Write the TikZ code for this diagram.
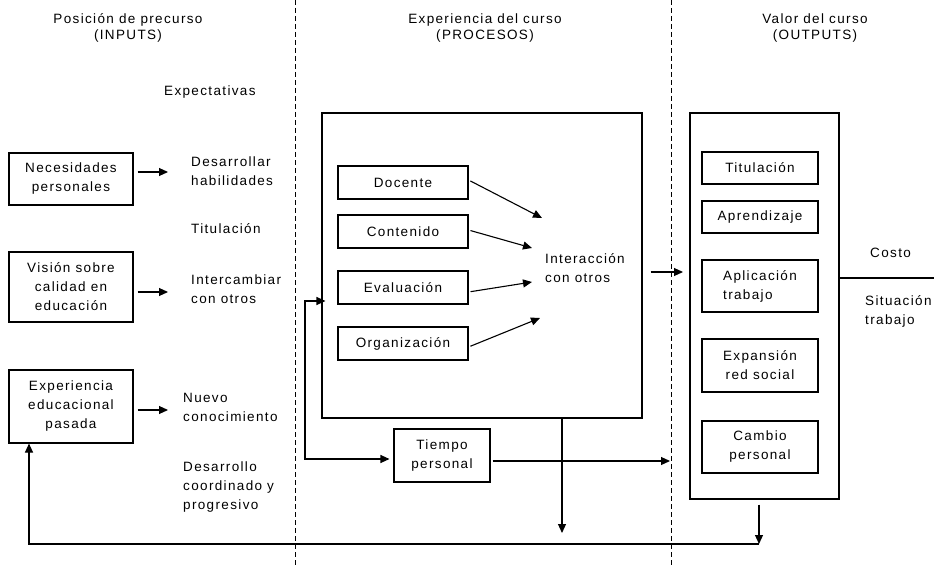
\documentclass[tikz,border=0pt]{standalone}
\usepackage{fontspec}
\setmainfont{Liberation Sans}[LetterSpace=10]
\usetikzlibrary{arrows.meta}
\begin{document}
\begin{tikzpicture}[x=1pt,y=-1pt,
  font=\fontsize{13.5}{19}\selectfont,
  every node/.style={inner sep=0pt},
  box/.style={draw,line width=1.1pt,align=center},
  txt/.style={anchor=west,align=left},
  hdr/.style={align=center,font=\fontsize{13.5}{16}\selectfont},
  arr/.style={line width=1.1pt,-{Triangle[length=9pt,width=8pt]}},
  ln/.style={line width=1.1pt},
  dsh/.style={line width=0.9pt,dash pattern=on 5pt off 3pt}]
\path[use as bounding box] (0,0) rectangle (934,567);
% dashed separators
\draw[dsh] (295,0) -- (295,567);
\draw[dsh] (671,0) -- (671,567);
% headers
\node[hdr] (h1) at (128,28) {Posición de precurso\\(INPUTS)};
\node[hdr] (h2) at (485,28) {Experiencia del curso\\(PROCESOS)};
\node[hdr] (h3) at (815,28) {Valor del curso\\(OUTPUTS)};
\node[txt] (expt) at (164,92) {Expectativas};
% left boxes
\node[box,minimum width=124pt,minimum height=52pt] (nec) at (71,179) {Necesidades\\personales};
\node[box,minimum width=124pt,minimum height=70pt] (vis) at (71,287) {Visión sobre\\calidad en\\educación};
\node[box,minimum width=124pt,minimum height=73pt] (exp) at (71,406.5) {Experiencia\\educacional\\pasada};
% expectations texts
\node[txt] (e1) at (191,171) {Desarrollar\\habilidades};
\node[txt] (e2) at (191,229) {Titulación};
\node[txt] (e3) at (191,289) {Intercambiar\\con otros};
\node[txt] (e4) at (183,407) {Nuevo\\conocimiento};
\node[txt] (e5) at (183,487) {Desarrollo\\coordinado y\\progresivo};
\coordinate (t1) at (168,172);
\coordinate (t2) at (168,292);
\coordinate (t3) at (168,410);
\draw[arr,shorten <=4pt] (nec.east |- t1) -- (t1);
\draw[arr,shorten <=4pt] (vis.east |- t2) -- (t2);
\draw[arr,shorten <=4pt] (exp.east |- t3) -- (t3);
% process box
\node[draw,line width=1.1pt,minimum width=320pt,minimum height=305pt] (big) at (482,265.5) {};
\node[box,minimum width=130pt,minimum height=33pt] (doc) at (403,182.5) {Docente};
\node[box,minimum width=130pt,minimum height=33pt] (con) at (403,231.5) {Contenido};
\node[box,minimum width=130pt,minimum height=33pt] (eva) at (403,287.5) {Evaluación};
\node[box,minimum width=130pt,minimum height=33pt] (org) at (403,343.5) {Organización};
\node[txt] (inter) at (545,268) {Interacción\\con otros};
\coordinate (i1) at (542,218);
\coordinate (i2) at (532,248);
\coordinate (i3) at (532,282);
\coordinate (i4) at (540,318);
\draw[arr,shorten <=2pt] ([yshift=2.5pt]doc.east) -- (i1);
\draw[arr,shorten <=2pt] ([yshift=1.5pt]con.east) -- (i2);
\draw[arr,shorten <=2pt] ([yshift=-4.5pt]eva.east) -- (i3);
\draw[arr,shorten <=2pt] ([yshift=-3.5pt]org.east) -- (i4);
% tiempo personal
\node[box,minimum width=96pt,minimum height=53pt] (tp) at (442,455.5) {Tiempo\\personal};
\coordinate (c1) at (305,301);
\coordinate (c2) at (305,459);
\draw[arr,shorten >=-4pt] (c2) -- (c1) -- (big.west |- c1);
\draw[arr,shorten >=4pt] (c1) -- (c2) -- (tp.west |- c2);
\coordinate (d1) at (670,461);
\draw[arr,shorten <=2pt] (tp.east |- d1) -- (d1);
\coordinate (d2) at (562,533);
\draw[arr] (big.south -| d2) -- (d2);
% outputs
\node[draw,line width=1.1pt,minimum width=149pt,minimum height=386pt] (out) at (764.5,306) {};
\node[box,minimum width=116pt,minimum height=32pt] (o1) at (760,168) {Titulación};
\node[box,minimum width=116pt,minimum height=32pt] (o2) at (760,217) {Aprendizaje};
\node[box,minimum width=116pt,minimum height=52pt,align=left] (o3) at (760,286) {Aplicación\\trabajo};
\node[box,minimum width=116pt,minimum height=53pt] (o4) at (760,365.5) {Expansión\\red social};
\node[box,minimum width=116pt,minimum height=52pt] (o5) at (760,447) {Cambio\\personal};
\coordinate (bb) at (683,272);
\draw[arr,shorten <=8pt] (big.east |- bb) -- (bb);
\coordinate (ce) at (934,278);
\draw[ln] (out.east |- ce) -- (ce);
\node[txt] (costo) at (870,253) {Costo};
\node[txt] (sit) at (865,311) {Situación\\trabajo};
% feedback
\coordinate (fb1) at (759,544);
\coordinate (fb2) at (29,544);
\draw[arr,shorten <=5pt] (out.south -| fb1) -- (fb1);
\draw[arr] (fb1) -- (fb2) -- (exp.south -| fb2);
\end{tikzpicture}
\end{document}
